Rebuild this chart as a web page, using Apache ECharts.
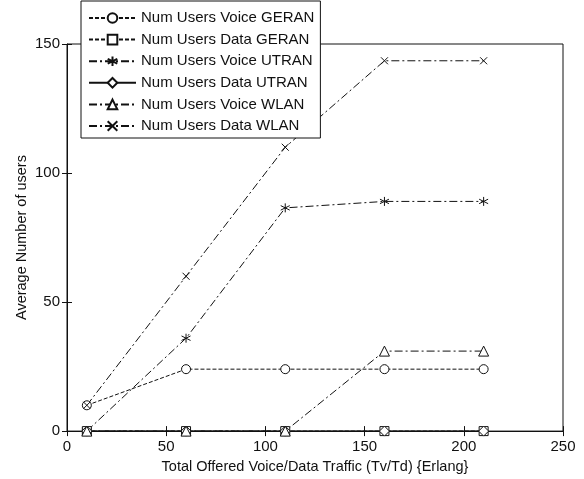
<!DOCTYPE html>
<html>
<head>
<meta charset="utf-8">
<script src="https://cdn.jsdelivr.net/npm/echarts@6/dist/echarts.min.js"></script>
<style>
  html, body { margin: 0; padding: 0; background: #fff; }
  #chart { width: 584px; height: 479px; }
</style>
</head>
<body>
<div id="chart"></div>
<script>
// Offered traffic points (Erlang)
const traffic = [10, 60, 110, 160, 210];

// Average number of users per access network / service
const voiceGERAN = [10, 24, 24, 24, 24];
const dataGERAN  = [0, 0, 0, 0, 0];
const voiceUTRAN = [0, 36, 86.5, 89, 89];
const dataUTRAN  = [0, 0, 0, 0, 0];
const voiceWLAN  = [0, 0, 0, 31, 31];
const dataWLAN   = [10, 60, 110, 143.5, 143.5];

const xTicks = [0, 50, 100, 150, 200, 250];
const yTicks = [0, 50, 100, 150];

const seriesNames = [
  'Num Users Voice GERAN',
  'Num Users Data GERAN',
  'Num Users Voice UTRAN',
  'Num Users Data UTRAN',
  'Num Users Voice WLAN',
  'Num Users Data WLAN'
];

const INK = '#111';
const asterisk = 'path://M0,-5L0,5M-4.33,-2.5L4.33,2.5M-4.33,2.5L4.33,-2.5';
const cross = 'path://M-4,-4L4,4M-4,4L4,-4';

function pairs(values) {
  return traffic.map((x, i) => [x, values[i]]);
}

function makeSeries(name, values, symbol, size, dash) {
  return {
    name: name,
    type: 'line',
    data: pairs(values),
    symbol: symbol,
    symbolSize: size,
    showAllSymbol: true,
    lineStyle: { color: INK, width: 1, type: dash },
    itemStyle: { color: '#fff', borderColor: INK, borderWidth: 1 },
    emphasis: { disabled: true },
    animation: false
  };
}

const series = [
  makeSeries(seriesNames[0], voiceGERAN, 'circle', 9, [4, 2]),
  makeSeries(seriesNames[1], dataGERAN, 'rect', 9, [4, 2]),
  makeSeries(seriesNames[2], voiceUTRAN, asterisk, 9, [8, 3, 2, 3]),
  makeSeries(seriesNames[3], dataUTRAN, 'diamond', 10, 'solid'),
  makeSeries(seriesNames[4], voiceWLAN, 'triangle', 10, [8, 3, 2, 3]),
  makeSeries(seriesNames[5], dataWLAN, cross, 7, [8, 3, 2, 3])
];
// the line-only markers (asterisk, cross) are drawn as strokes
series[2].itemStyle = { color: 'none', borderColor: INK, borderWidth: 1 };
series[5].itemStyle = { color: 'none', borderColor: INK, borderWidth: 1 };

const tickFont = { fontFamily: 'Liberation Sans Narrow, Liberation Sans, Arial', fontSize: 15, color: INK };
const labelFont = { fontFamily: 'Liberation Sans, Arial', fontSize: 14.5, color: INK };
const legendFont = { fontFamily: 'Liberation Sans, Arial', fontSize: 15, color: INK, lineHeight: 16 };

const chart = echarts.init(document.getElementById('chart'), null, { renderer: 'canvas' });
chart.setOption({
  backgroundColor: '#fff',
  animation: false,
  grid: {
    left: 67, right: 21, top: 44, bottom: 45,
    show: true, borderColor: INK, borderWidth: 1, backgroundColor: 'transparent'
  },
  legend: {
    data: seriesNames,
    orient: 'vertical',
    left: 81, top: 1,
    backgroundColor: '#fff',
    borderColor: INK, borderWidth: 1, borderRadius: 0,
    padding: [9, 6, 4, 7],
    itemWidth: 47, itemHeight: 12, itemGap: 5.6,
    textStyle: legendFont,
    selectedMode: false
  },
  xAxis: [{
    type: 'value', min: xTicks[0], max: xTicks[xTicks.length - 1], interval: 50,
    name: 'Total Offered Voice/Data Traffic (Tv/Td) {Erlang}',
    nameLocation: 'middle', nameGap: 26, nameTextStyle: labelFont,
    axisLine: { show: true, lineStyle: { color: INK, width: 1 } },
    axisTick: { show: true, inside: true, length: 5, lineStyle: { color: INK } },
    axisLabel: { ...tickFont, margin: 8 },
    splitLine: { show: false }
  }, {
    type: 'value', position: 'top', min: xTicks[0], max: xTicks[xTicks.length - 1], interval: 50,
    axisLine: { show: false },
    axisTick: { show: true, inside: true, length: 5, lineStyle: { color: INK } },
    axisLabel: { show: false }, splitLine: { show: false }
  }],
  yAxis: [{
    type: 'value', min: yTicks[0], max: yTicks[yTicks.length - 1], interval: 50,
    name: 'Average Number of users',
    nameLocation: 'middle', nameGap: 38, nameMoveOverlap: false, nameTextStyle: labelFont,
    axisLine: { show: true, lineStyle: { color: INK, width: 1 } },
    axisTick: { show: true, inside: true, length: 5, lineStyle: { color: INK } },
    axisLabel: { ...tickFont, margin: 7 },
    splitLine: { show: false }
  }, {
    type: 'value', position: 'right', min: yTicks[0], max: yTicks[yTicks.length - 1], interval: 50,
    axisLine: { show: false },
    axisTick: { show: true, inside: true, length: 5, lineStyle: { color: INK } },
    axisLabel: { show: false }, splitLine: { show: false }
  }],
  series: series
});
</script>
</body>
</html>
